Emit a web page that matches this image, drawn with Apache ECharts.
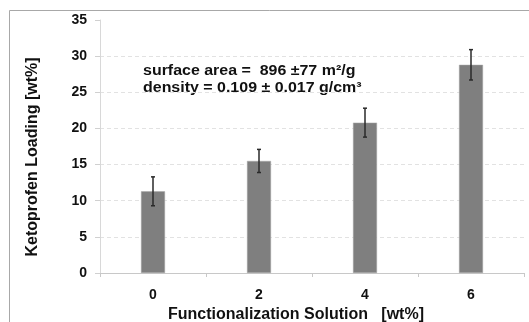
<!DOCTYPE html>
<html>
<head>
<meta charset="utf-8">
<script src="https://cdn.jsdelivr.net/npm/echarts@6/dist/echarts.min.js"></script>
<style>html,body{margin:0;padding:0;background:#fff;}#c{width:529px;height:322px;}</style>
</head>
<body>
<div id="c"></div>
<script>
const categories = ['0', '2', '4', '6'];
const loading = [11.3, 15.5, 20.8, 28.8];
const loadingErr = [2.0, 1.6, 2.0, 2.1];
const yTicks = [0, 5, 10, 15, 20, 25, 30, 35];
const noteLines = ['surface area =  896 ±77 m²/g', 'density = 0.109 ± 0.017 g/cm³'];

const chart = echarts.init(document.getElementById('c'), null, {renderer: 'canvas'});
const FONT = 'Liberation Sans, Arial, sans-serif';
const errData = loading.map((v, i) => [i, v - loadingErr[i], v + loadingErr[i]]);

chart.setOption({
  animation: false,
  backgroundColor: '#fff',
  grid: {left: 100, right: 5, top: 20, bottom: 49, outerBoundsMode: 'none', containLabel: false},
  xAxis: {
    type: 'category',
    data: categories,
    axisLine: {show: true, lineStyle: {color: '#c8c8c8', width: 1}},
    axisTick: {show: true, length: 4, lineStyle: {color: '#c8c8c8'}},
    axisLabel: {margin: 15, fontFamily: FONT, fontSize: 14, fontWeight: 'bold', color: '#111'},
    name: 'Functionalization Solution   [wt%]',
    nameLocation: 'middle',
    nameGap: 32,
    nameTextStyle: {fontFamily: FONT, fontSize: 16, fontWeight: 'bold', color: '#111', padding: [0, 32, 0, 0]}
  },
  yAxis: {
    type: 'value',
    min: yTicks[0],
    max: yTicks[yTicks.length - 1],
    interval: 5,
    axisLine: {show: true, lineStyle: {color: '#d8d8d8'}},
    axisTick: {show: true, length: 5, lineStyle: {color: '#d0d0d0'}},
    axisLabel: {margin: 13, fontFamily: FONT, fontSize: 14, fontWeight: 'bold', color: '#111'},
    splitLine: {show: true, lineStyle: {type: [4, 3], color: ['#e2e2e2','#e2e2e2','#e2e2e2','#e2e2e2','#e2e2e2','#e2e2e2','#e2e2e2','rgba(0,0,0,0)']}},
    name: 'Ketoprofen Loading [wt%]',
    nameLocation: 'middle',
    nameGap: 59,
    nameTextStyle: {fontFamily: FONT, fontSize: 16, fontWeight: 'bold', color: '#111', padding: [0, 21, 0, 0]}
  },
  series: [
    {
      type: 'bar',
      data: loading,
      barWidth: 24,
      itemStyle: {color: '#7f7f7f', borderColor: '#a8a8a8', borderWidth: 0.5}
    },
    {
      type: 'custom',
      data: errData,
      z: 5,
      renderItem: function (params, api) {
        const x = api.value(0);
        const lo = api.coord([x, api.value(1)]);
        const hi = api.coord([x, api.value(2)]);
        const cap = 2;
        const style = {stroke: '#2a2a2a', lineWidth: 1.5};
        return {
          type: 'group',
          children: [
            {type: 'line', shape: {x1: lo[0], y1: lo[1], x2: hi[0], y2: hi[1]}, style: style},
            {type: 'line', shape: {x1: hi[0] - cap, y1: hi[1], x2: hi[0] + cap, y2: hi[1]}, style: style},
            {type: 'line', shape: {x1: lo[0] - cap, y1: lo[1], x2: lo[0] + cap, y2: lo[1]}, style: style}
          ]
        };
      }
    }
  ],
  graphic: [
    {type: 'line', shape: {x1: 9.5, y1: 10.5, x2: 529, y2: 10.5}, style: {stroke: '#a8a8a8', lineWidth: 1}},
    {type: 'line', shape: {x1: 9.5, y1: 10.5, x2: 9.5, y2: 322}, style: {stroke: '#a8a8a8', lineWidth: 1}},
    {type: 'text', x: 143, y: 64, scaleX: 1.14, style: {text: noteLines[0], font: 'bold 14px ' + FONT, fill: '#111'}},
    {type: 'text', x: 143, y: 81, scaleX: 1.14, style: {text: noteLines[1], font: 'bold 14px ' + FONT, fill: '#111'}}
  ]
});
</script>
</body>
</html>
